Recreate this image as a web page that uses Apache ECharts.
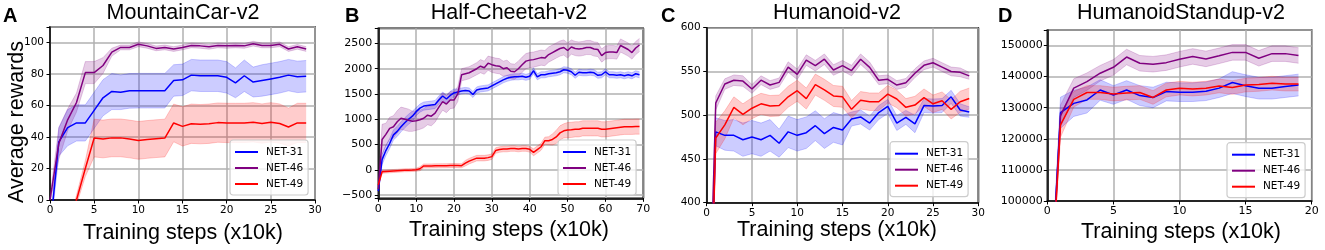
<!DOCTYPE html>
<html>
<head>
<meta charset="utf-8">
<script src="https://cdn.jsdelivr.net/npm/echarts@6/dist/echarts.min.js"></script>
<style>
html, body { margin: 0; padding: 0; background: #fff; }
#chart { width: 1325px; height: 250px; }
</style>
</head>
<body>
<div id="chart"></div>
<script>
const nets = ['NET-31', 'NET-46', 'NET-49']

// A: MountainCar-v2 (steps 0..29)
const a31 = [-20, 37, 46, 49, 49, 57, 65, 69, 68.5, 69.4, 69.5, 69.5, 69.5, 69.5, 76, 76.4, 79.4, 79, 79, 79, 78, 74.5, 79, 75, 76, 77, 78, 79.4, 78.3, 78.7]
const a31s = [2, 9, 11.5, 11.5, 11.5, 11.5, 11.5, 11.5, 11, 11, 11, 11, 11, 11, 10, 10, 10, 10, 10, 10, 10, 9.5, 10, 9.5, 10, 10, 10, 10, 10, 10]
const a46 = [0, 36, 51, 62, 81, 81, 85.5, 94, 97, 97, 99, 98, 96.4, 97, 96, 97, 98.3, 98, 97.4, 98.3, 98, 98.3, 98, 99.4, 98.3, 98.3, 99, 96, 97.4, 96]
const a46s = [2, 10, 7, 6, 7, 7, 5, 2.5, 1.5, 1.5, 1.5, 1.5, 1.5, 1.5, 1.5, 1.5, 1.5, 1.5, 1.5, 1.5, 1.5, 1.5, 1.5, 1.5, 1.5, 1.5, 1.5, 1.5, 1.5, 1.5]
const a49 = [-60, -40, -20, 0, 20, 39.4, 38.8, 39.5, 39.5, 38.8, 37.9, 38.5, 39, 39.4, 49, 46.8, 48.5, 48.2, 48.5, 49.2, 49, 49, 49, 49.4, 48.6, 49.4, 48.6, 46.4, 49, 49]
const a49s = [3, 3, 3, 3, 5, 12, 12, 12, 12, 12, 12, 12, 12, 12, 12, 12.5, 12.5, 12.5, 12.5, 12.5, 12.5, 12.5, 12.5, 12.5, 12.5, 12.5, 12.5, 12, 12.5, 12.5]

// B: Half-Cheetah-v2 (steps 0..69)
const b31 = [-420, 200, 380, 520, 690, 760, 850, 930, 1000, 1060,
  1150, 1220, 1260, 1270, 1280, 1290, 1380, 1460, 1400, 1470,
  1520, 1540, 1560, 1570, 1560, 1490, 1580, 1600, 1610, 1620,
  1660, 1700, 1740, 1780, 1810, 1830, 1840, 1840, 1850, 1830,
  1850, 1960, 1840, 1880, 1880, 1900, 1910, 1920, 1940, 1980,
  1970, 1940, 1870, 1930, 1920, 1920, 1930, 1920, 1870, 1880,
  1940, 1880, 1880, 1870, 1880, 1860, 1880, 1860, 1900, 1880]
const b31s = [30, 100, 100, 100, 100, 100, 100, 100, 100, 100,
  80, 80, 80, 80, 80, 80, 80, 80, 80, 80,
  80, 60, 60, 60, 60, 60, 60, 60, 60, 60,
  60, 60, 60, 60, 60, 60, 60, 60, 60, 60,
  60, 60, 60, 60, 60, 60, 60, 60, 60, 60,
  60, 60, 60, 60, 60, 60, 60, 60, 60, 60,
  60, 60, 60, 60, 60, 60, 60, 60, 60, 60]
const b46 = [-380, 600, 700, 820, 850, 950, 1020, 1000, 980, 960,
  970, 990, 1020, 1080, 1060, 1120, 1240, 1350, 1300, 1380,
  1380, 1500, 1880, 1900, 1920, 1960, 2000, 2050, 2020, 2110,
  2080, 2060, 2050, 2000, 2020, 1950, 1940, 2000, 2080, 2150,
  2170, 2180, 2200, 2220, 2210, 2280, 2320, 2360, 2400, 2420,
  2360, 2430, 2400, 2390, 2400, 2420, 2420, 2390, 2380, 2260,
  2320, 2330, 2330, 2320, 2460, 2420, 2380, 2320, 2410, 2470]
const b46s = [30, 300, 220, 220, 220, 220, 220, 220, 220, 200,
  190, 190, 190, 190, 190, 180, 170, 170, 170, 170,
  160, 150, 120, 120, 120, 120, 120, 130, 130, 140,
  150, 150, 150, 150, 150, 150, 150, 150, 150, 150,
  150, 150, 150, 150, 150, 150, 150, 150, 150, 150,
  150, 140, 140, 140, 140, 140, 140, 140, 140, 130,
  130, 130, 130, 130, 130, 130, 130, 130, 130, 130]
const b49 = [-300, -40, -35, -30, -25, -20, -15, -10, -8, -5,
  0, 20, 75, 75, 76, 77, 78, 79, 80, 82,
  84, 82, 80, 130, 170, 200, 230, 230, 230, 240,
  260, 380, 400, 410, 410, 420, 420, 410, 420, 420,
  405, 345, 400, 455, 575, 575, 600, 650, 730, 770,
  785, 790, 800, 800, 820, 820, 820, 820, 820, 800,
  800, 810, 820, 830, 840, 850, 850, 850, 855, 855]
const b49s = [30, 30, 30, 30, 30, 30, 30, 30, 30, 30,
  30, 40, 40, 40, 40, 40, 40, 40, 40, 40,
  40, 40, 40, 55, 55, 55, 55, 55, 55, 55,
  55, 55, 55, 55, 55, 55, 55, 55, 55, 55,
  55, 70, 70, 70, 70, 80, 110, 130, 140, 140,
  150, 150, 150, 150, 150, 150, 150, 150, 150, 150,
  150, 150, 150, 150, 150, 150, 150, 150, 150, 150]

// C: Humanoid-v2 (steps 0..29)
const c31 = [100, 481, 477, 477, 472, 475, 472, 477, 468, 481, 477, 480, 488, 479, 486, 483, 495.6, 498, 491, 503, 510, 491, 497.5, 490, 511, 510.5, 511, 521, 506, 503.6]
const c31s = [3, 16, 17, 18, 19, 19, 19, 18, 16, 18, 18, 18, 17, 17, 17, 17, 8, 8, 8, 8, 8, 8.5, 8, 10, 8, 8, 8, 7.5, 7, 6]
const c46 = [150, 514, 535.6, 540, 539, 530, 540, 534.5, 537.5, 555, 546.7, 563, 556.6, 564, 551.6, 556.6, 551, 564, 554.7, 540, 541, 534.5, 537, 548, 557, 560, 555, 550, 549, 545]
const c46s = [3, 8, 6, 6, 6, 5, 5, 5, 5, 6, 6, 6, 6, 6, 6, 6, 6, 6, 6, 5, 5, 5, 5, 5, 5, 5, 5, 5, 5, 4]
const c49 = [100, 474, 489, 509, 501, 508, 513, 510.5, 511, 521, 528, 519, 535, 529, 522, 521, 506.7, 517, 515.4, 515.4, 524, 518.5, 509, 511.6, 520, 513, 516.6, 506.7, 515.4, 519]
const c49s = [3, 18, 16, 12, 12, 12, 12, 12, 12, 12, 12, 12, 12, 12, 12, 12, 10, 10, 10, 10, 10, 10, 10, 10, 10, 10, 10, 11, 12, 12]

// D: HumanoidStandup-v2 (steps 0..19)
const d31 = [50000, 128400, 131400, 132500, 135700, 134100, 135700, 133900, 133300, 135200, 135000, 135000, 135300, 136300, 138100, 137100, 136300, 136300, 136800, 137300]
const d31s = [1000, 5000, 4200, 4200, 3300, 3000, 3000, 3200, 3300, 3000, 3000, 3000, 3000, 3000, 3500, 3500, 3500, 3500, 3500, 3500]
const d46 = [50000, 127400, 136300, 138400, 141100, 143000, 146300, 144300, 144000, 144500, 145600, 146500, 145700, 146700, 147800, 147800, 145900, 147400, 147400, 146800]
const d46s = [1000, 3500, 3000, 2800, 2500, 2500, 2500, 2500, 2500, 2500, 2500, 2500, 2500, 2500, 2500, 2500, 2500, 2500, 2500, 2500]
const d49 = [50000, 124500, 132700, 134900, 134900, 134400, 134700, 134900, 133300, 135700, 136300, 136000, 136300, 137000, 136500, 137300, 137500, 137900, 137600, 137600]
const d49s = [1000, 4000, 2500, 2200, 2200, 2200, 2200, 2200, 2200, 2200, 2200, 2200, 2200, 2200, 2200, 2200, 2200, 2200, 2200, 2200]

const titles = ['MountainCar-v2', 'Half-Cheetah-v2', 'Humanoid-v2', 'HumanoidStandup-v2']
const letters = ['A', 'B', 'C', 'D']

// layout per panel; y: [min, max, step, splitNumber]
const panels = [
  { grid: [50, 27, 265, 173], x: [0, 30, 5], y: [0, 110, 20], fs: 10.5, lm: 6, cx: 183, xl: 233, lx: 3, leg: [230, 140], means: [a31, a46, a49], spreads: [a31s, a46s, a49s] },
  { grid: [378.3, 28.3, 265, 170], x: [0, 70, 10], y: [-565, 2800, 500, 7], fs: 11, lm: 6, cx: 509, xl: 230, lx: 345, leg: [558, 140], means: [b31, b46, b49], spreads: [b31s, b46s, b49s] },
  { grid: [706.7, 27.7, 271.6, 175], x: [0, 30, 5], y: [400, 600, 50], fs: 10.5, lm: 6, cx: 837, xl: 230, lx: 661, leg: [890, 141.7], means: [c31, c46, c49], spreads: [c31s, c46s, c49s] },
  { grid: [1047.3, 30, 264.4, 171], x: [0, 20, 5], y: [100000, 155000, 10000], fs: 11, lm: 4.5, cx: 1181, xl: 232.5, lx: 998, leg: [1227, 142.7], means: [d31, d46, d49], spreads: [d31s, d46s, d49s] }
]

const lineColors = ['#0000ff', '#800080', '#ff0000']
const bandColors = ['rgba(0,0,255,0.2)', 'rgba(128,0,128,0.2)', 'rgba(255,0,0,0.2)']
const edgeColors = ['rgba(0,0,255,0.2)', 'rgba(128,0,128,0.2)', 'rgba(255,0,0,0.2)']

const chart = echarts.init(document.getElementById('chart'), null, { renderer: 'canvas' })

const grids = [], xAxes = [], yAxes = [], series = [], legends = [], graphics = []

// whole band drawn once, on the first item, through the axis scales
function bandRender (k) {
  return function (params, api) {
    if (params.dataIndex !== 0) return null
    const n = params.dataInsideLength
    const lo = [], hi = []
    for (let i = 0; i < n; i++) {
      lo.push(api.coord([api.value(0, i), api.value(1, i)]))
      hi.push(api.coord([api.value(0, i), api.value(2, i)]))
    }
    const poly = lo.concat(hi.slice().reverse())
    return {
      type: 'group',
      children: [
        { type: 'polygon', shape: { points: poly }, style: { fill: bandColors[k] } },
        { type: 'polyline', shape: { points: lo }, style: { stroke: edgeColors[k], lineWidth: 1, fill: null } },
        { type: 'polyline', shape: { points: hi }, style: { stroke: edgeColors[k], lineWidth: 1, fill: null } }
      ]
    }
  }
}

panels.forEach((p, gi) => {
  grids.push({ left: p.grid[0], top: p.grid[1], width: p.grid[2], height: p.grid[3], show: true, borderColor: '#000', borderWidth: 1.5, backgroundColor: 'transparent' })
  const tickLabel = { color: '#000', fontFamily: 'DejaVu Sans', fontSize: p.fs }
  xAxes.push({
    gridIndex: gi, type: 'value', min: p.x[0], max: p.x[1], interval: p.x[2],
    axisLine: { show: true, onZero: false, lineStyle: { color: '#000', width: 1.5 } },
    axisTick: { show: true, length: 3.5, lineStyle: { color: '#000' } },
    axisLabel: Object.assign({ margin: 5 }, tickLabel),
    splitLine: { show: true, lineStyle: { color: '#b0b0b0', width: 1.5 } }
  })
  const step = p.y[2]
  const yAx = {
    gridIndex: gi, type: 'value', min: p.y[0], max: p.y[1],
    axisLine: { show: true, onZero: false, lineStyle: { color: '#000', width: 1.5 } },
    axisTick: { show: true, length: 3.5, lineStyle: { color: '#000' } },
    axisLabel: Object.assign({ margin: p.lm, formatter: v => (Math.abs(v % step) < 1e-6 ? String(v).replace('-', '\u2212') : '') }, tickLabel),
    splitLine: { show: true, lineStyle: { color: '#b0b0b0', width: 1.5 } }
  }
  if (p.y[3]) yAx.splitNumber = p.y[3]
  else yAx.interval = step
  yAxes.push(yAx)

  p.means.forEach((mean, k) => {
    const spread = p.spreads[k]
    series.push({
      name: nets[k] + ' band', type: 'custom', xAxisIndex: gi, yAxisIndex: gi,
      silent: true, clip: true, z: 1,
      renderItem: bandRender(k),
      encode: { x: 0, y: [1, 2] },
      data: mean.map((v, i) => [i, v - spread[i], v + spread[i]])
    })
  })
  p.means.forEach((mean, k) => {
    series.push({
      name: nets[k], type: 'line', xAxisIndex: gi, yAxisIndex: gi,
      symbol: 'none', z: 3,
      lineStyle: { color: lineColors[k], width: 1.5 },
      itemStyle: { color: lineColors[k] },
      data: mean.map((v, i) => [i, v])
    })
  })

  legends.push({
    data: nets, orient: 'vertical', left: p.leg[0], top: p.leg[1],
    icon: 'rect', itemWidth: 23, itemHeight: 2, itemGap: 4,
    padding: [6, 5, 5, 5],
    backgroundColor: 'rgba(255,255,255,0.8)', borderColor: '#cccccc', borderWidth: 1.2, borderRadius: 3,
    textStyle: { color: '#000', fontFamily: 'DejaVu Sans', fontSize: 10.5, lineHeight: 12, padding: [0, 0, 0, 3] },
    selectedMode: false
  })

  graphics.push({ type: 'text', left: p.lx, top: 6, style: { text: letters[gi], font: 'bold 20px "Liberation Sans"', fill: '#000' } })
  graphics.push({ type: 'text', x: p.cx, y: 13, style: { text: titles[gi], font: '21.5px "Liberation Sans"', fill: '#000', align: 'center', verticalAlign: 'middle' } })
  graphics.push({ type: 'text', x: p.cx, y: p.xl, style: { text: 'Training steps (x10k)', font: '21.5px "Liberation Sans"', fill: '#000', align: 'center', verticalAlign: 'middle' } })
})

graphics.push({ type: 'text', x: 17.5, y: 122, rotation: Math.PI / 2, style: { text: 'Average rewards', font: '21.5px "Liberation Sans"', fill: '#000', align: 'center', verticalAlign: 'middle' } })

chart.setOption({
  animation: false,
  grid: grids,
  xAxis: xAxes,
  yAxis: yAxes,
  legend: legends,
  series: series,
  graphic: graphics
})
</script>
</body>
</html>
